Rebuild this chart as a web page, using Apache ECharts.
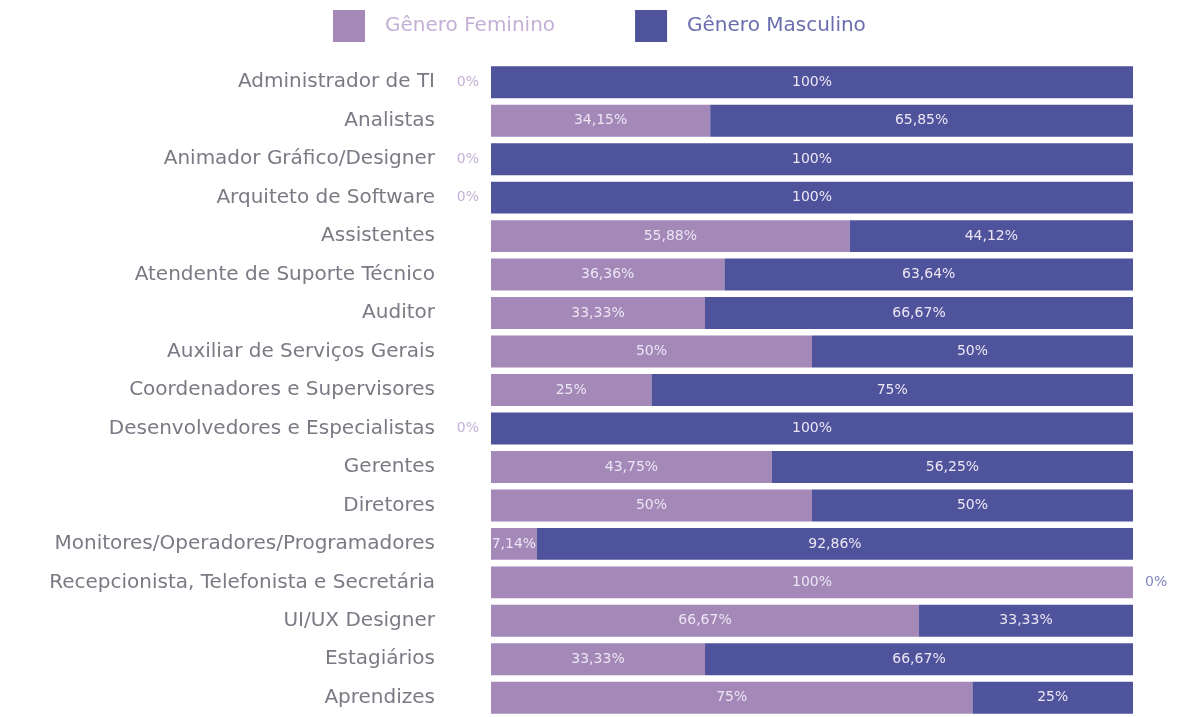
<!DOCTYPE html>
<html><head><meta charset="utf-8">
<script src="https://cdn.jsdelivr.net/npm/echarts@6/dist/echarts.min.js"></script>
<style>html,body{margin:0;padding:0;background:#fff}#c{width:1198px;height:717px}</style>
</head><body><div id="c"></div>
<script>
const categories = ["Administrador de TI","Analistas","Animador Gráfico/Designer","Arquiteto de Software","Assistentes","Atendente de Suporte Técnico","Auditor","Auxiliar de Serviços Gerais","Coordenadores e Supervisores","Desenvolvedores e Especialistas","Gerentes","Diretores","Monitores/Operadores/Programadores","Recepcionista, Telefonista e Secretária","UI/UX Designer","Estagiários","Aprendizes"];
const feminino = [0,34.15,0,0,55.88,36.36,33.33,50,25,0,43.75,50,7.14,100,66.67,33.33,75];
const masculino = [100,65.85,100,100,44.12,63.64,66.67,50,75,100,56.25,50,92.86,0,33.33,66.67,25];
const seriesNames = ["Gênero Feminino","Gênero Masculino"];

const FONT = "DejaVu Sans";
const fmt = v => String(v).replace('.', ',') + '%';
function mk(arr, zeroPos, zeroColor){
  return arr.map(v => v === 0 ? {value: v, label: {position: zeroPos, color: zeroColor, distance: 12}} : v);
}
const chart = echarts.init(document.getElementById('c'));
chart.setOption({
  animation: false,
  textStyle: {fontFamily: FONT},
  legend: {
    top: 10, left: 333, padding: 0, itemWidth: 32, itemHeight: 32, itemGap: 80,
    icon: 'rect',
    textStyle: {fontSize: 20, fontFamily: FONT, padding: [0,0,0,15]},
    data: [{name: seriesNames[0], textStyle: {color: '#c4b0d6'}}, {name: seriesNames[1], textStyle: {color: '#6a6eae'}}]
  },
  grid: {left: 491, right: 65, top: 63, height: 660, containLabel: false},
  xAxis: {type: 'value', min: 0, max: 100, show: false},
  yAxis: {type: 'category', data: categories, inverse: true,
    axisLine: {show: false}, axisTick: {show: false},
    axisLabel: {fontSize: 20, color: '#7a7a84', margin: 56, fontFamily: FONT}},
  series: [
    {name: seriesNames[0], type: 'bar', stack: 's', barWidth: '83%', data: mk(feminino, 'left', '#c4b0d6'),
     itemStyle: {color: '#a388b8'},
     label: {show: true, position: 'inside', color: '#ece6f4', fontSize: 14, fontFamily: FONT, formatter: p => fmt(p.value)}},
    {name: seriesNames[1], type: 'bar', stack: 's', barWidth: '83%', data: mk(masculino, 'right', '#8088c4'),
     itemStyle: {color: '#4f539c'},
     label: {show: true, position: 'inside', color: '#ece6f4', fontSize: 14, fontFamily: FONT, formatter: p => fmt(p.value)}}
  ]
});
</script></body></html>
